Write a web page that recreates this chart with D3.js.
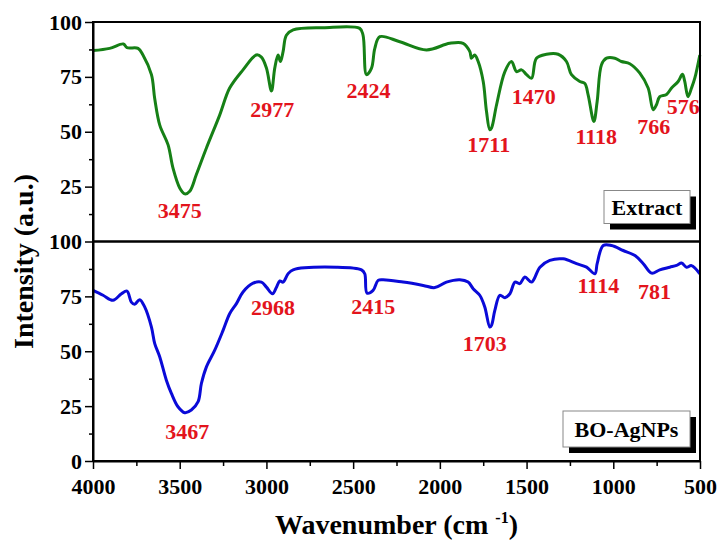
<!DOCTYPE html>
<html>
<head>
<meta charset="utf-8">
<script src="https://cdn.jsdelivr.net/npm/d3@7"></script>
<style>
  body { margin: 0; background: #fff; }
  text { font-family: "Liberation Serif", "Times New Roman", serif; font-weight: bold; }
</style>
</head>
<body>
<div id="chart"></div>
<script>
// spectra: [wavenumber, intensity]
const extractSpectrum = [
  [4000, 87], [3904, 88], [3825, 90], [3804, 88.3], [3740, 88], [3712, 85], [3663, 76],
  [3644, 65], [3615, 53], [3567, 44], [3539, 33.5], [3500, 24.4], [3471, 21.7], [3442, 22.9],
  [3404, 30.5], [3346, 42.6], [3269, 57.7], [3212, 69.9], [3135, 78.2], [3058, 85], [3029, 84],
  [3000, 79], [2971, 68.6], [2952, 79], [2933, 85], [2919, 82], [2904, 86.5], [2885, 94],
  [2846, 96.4], [2673, 97.4], [2462, 97.1], [2443, 94], [2423, 76], [2394, 79], [2375, 88],
  [2346, 93.3], [2231, 91], [2077, 87.3], [1943, 90.3], [1866, 90.3], [1827, 86.5], [1818, 83.5],
  [1799, 85], [1779, 82], [1750, 72.9], [1731, 59.2], [1712, 50.9], [1702, 51.7], [1673, 62.3],
  [1625, 77.4], [1587, 82], [1558, 77.4], [1529, 78.2], [1500, 76], [1471, 74.4], [1443, 83.5],
  [1385, 85.3], [1318, 85.3], [1270, 82], [1241, 76], [1193, 72.9], [1164, 72], [1145, 66.8],
  [1112, 54.7], [1093, 63.8], [1068, 80.5], [1039, 83.5], [991, 83.5], [953, 82], [905, 81],
  [847, 76.7], [799, 69.9], [770, 60], [751, 62.3], [732, 66], [693, 67], [664, 69.9],
  [626, 72.9], [601, 76.2], [588, 72.9], [569, 66], [549, 69.9], [530, 74.4], [501, 85]
];

const agnpSpectrum = [
  [4000, 77.7], [3942, 75.5], [3885, 73.2], [3836, 76.2], [3804, 77.4], [3779, 72.4], [3760, 71.4],
  [3731, 73.5], [3702, 70.2], [3663, 61], [3644, 53.5], [3615, 47.4], [3577, 36.8], [3548, 30.8],
  [3510, 24.7], [3471, 22], [3433, 23.2], [3394, 27], [3375, 35.3], [3346, 42.9], [3298, 50.5],
  [3250, 59.5], [3212, 67.1], [3173, 71.7], [3135, 77], [3077, 81], [3029, 81.5], [3000, 79.2],
  [2965, 76.2], [2942, 79.2], [2923, 82], [2904, 81.5], [2875, 85.3], [2846, 87.1], [2596, 88.3],
  [2452, 87.1], [2433, 85.3], [2420, 76.5], [2385, 77.7], [2356, 82.3], [2327, 82.6], [2212, 81.5],
  [2096, 80], [2029, 79], [1962, 81.5], [1885, 82.6], [1837, 81.5], [1808, 78.5], [1770, 75.5],
  [1741, 70.2], [1712, 61], [1702, 61.8], [1683, 68.6], [1654, 75.5], [1625, 74.4], [1596, 76.2],
  [1567, 81.5], [1539, 80.8], [1510, 83.8], [1471, 81.5], [1423, 88.3], [1366, 91.4], [1289, 92.1],
  [1212, 89.9], [1154, 88.3], [1106, 85.3], [1093, 89.9], [1058, 98.2], [1010, 98.2], [943, 95.9],
  [875, 93.6], [827, 89.9], [779, 85.6], [732, 87.1], [674, 88.3], [635, 89.1], [606, 90.2],
  [578, 88.3], [549, 89], [501, 85.3]
];

// peak labels: text, anchor wavenumber, anchor intensity
const extractPeaks = [
  ['3475', 3500, 10.8], ['2977', 2967, 56.7], ['2424', 2412, 65.3], ['1711', 1718, 40.6],
  ['1470', 1459, 62.6], ['1118', 1098, 44.4], ['766', 766, 49.1], ['576', 596, 58]
];
const agnpPeaks = [
  ['3467', 3457, 9.9], ['2968', 2962, 66.4], ['2415', 2384, 66.8], ['1703', 1741, 50.1],
  ['1114', 1086, 76.5], ['781', 763, 74]
];

const xTicks = [4000, 3500, 3000, 2500, 2000, 1500, 1000, 500];
const yTicks = [0, 25, 50, 75, 100];

const width = 719, height = 542;
const margin = {top: 22, right: 19, bottom: 81, left: 93};
const innerW = width - margin.left - margin.right;
const panelH = (height - margin.top - margin.bottom) / 2;

const panels = [
  {name: 'Extract', data: extractSpectrum, peaks: extractPeaks, color: '#168016', top: 0, boxW: 86},
  {name: 'BO-AgNPs', data: agnpSpectrum, peaks: agnpPeaks, color: '#0a0ad8', top: panelH, boxW: 127}
];

const x = d3.scaleLinear().domain([4000, 500]).range([0, innerW]);

const svg = d3.select('#chart').append('svg')
    .attr('width', width)
    .attr('height', height);

const chart = svg.append('g')
    .attr('transform', `translate(${margin.left},${margin.top})`);

const styleTicks = g => g.selectAll('text')
    .attr('font-size', 22)
    .attr('fill', '#000')
    .attr('font-family', '"Liberation Serif", serif')
    .attr('font-weight', 'bold');

panels.forEach((p, i) => {
  const y = d3.scaleLinear().domain([0, 100]).range([p.top + panelH, p.top]);

  // curve
  const line = d3.line()
      .x(d => x(d[0]))
      .y(d => y(d[1]))
      .curve(d3.curveCatmullRom.alpha(0.5));

  chart.append('path')
      .datum(p.data)
      .attr('fill', 'none')
      .attr('stroke', p.color)
      .attr('stroke-width', 3)
      .attr('stroke-linejoin', 'round')
      .attr('d', line);

  // peak labels
  chart.selectAll(`.peak-${i}`)
    .data(p.peaks)
    .join('text')
      .attr('class', `peak-${i}`)
      .attr('x', d => x(d[1]))
      .attr('y', d => y(d[2]))
      .attr('text-anchor', 'middle')
      .attr('fill', '#e3141c')
      .attr('font-size', 22)
      .text(d => d[0]);

  // y axis with minor ticks
  const yAxis = d3.axisLeft(y)
      .tickValues(i === 0 ? yTicks.slice(1) : yTicks)
      .tickSize(8)
      .tickPadding(3)
      .tickSizeOuter(0);
  const yMinor = d3.axisLeft(y)
      .tickValues(d3.range(12.5, 100, 25))
      .tickSize(4)
      .tickFormat('')
      .tickSizeOuter(0);

  const yg = chart.append('g').call(yAxis).call(styleTicks);
  chart.append('g').call(yMinor).call(g => g.select('.domain').remove());
  yg.select('.domain').attr('stroke-width', 2);

  // legend box with drop shadow
  const bx = innerW - 10 - p.boxW, bh = i === 0 ? 33 : 36;
  const by = p.top + panelH - (i === 0 ? 18 : 14) - bh;
  chart.append('rect')
      .attr('x', bx + 6).attr('y', by + 6)
      .attr('width', p.boxW).attr('height', bh)
      .attr('fill', '#000');
  chart.append('rect')
      .attr('x', bx).attr('y', by)
      .attr('width', p.boxW).attr('height', bh)
      .attr('fill', '#fff')
      .attr('stroke', '#888')
      .attr('stroke-width', 1);
  chart.append('text')
      .attr('x', bx + p.boxW / 2)
      .attr('y', by + bh / 2 + 7.5)
      .attr('text-anchor', 'middle')
      .attr('font-size', 22)
      .text(p.name);
});

// frame: top, right and middle divider
chart.append('rect')
    .attr('x', 0).attr('y', 0)
    .attr('width', innerW).attr('height', panelH * 2)
    .attr('fill', 'none')
    .attr('stroke', '#000')
    .attr('stroke-width', 2);
chart.append('line')
    .attr('x1', 0).attr('x2', innerW)
    .attr('y1', panelH).attr('y2', panelH)
    .attr('stroke', '#000')
    .attr('stroke-width', 2.5);

// x axis
const xAxis = d3.axisBottom(x)
    .tickValues(xTicks)
    .tickFormat(d3.format('d'))
    .tickSize(8)
    .tickPadding(9)
    .tickSizeOuter(0);
const xMinor = d3.axisBottom(x)
    .tickValues(d3.range(3750, 500, -500))
    .tickSize(5)
    .tickFormat('')
    .tickSizeOuter(0);

const xg = chart.append('g')
    .attr('transform', `translate(0,${panelH * 2})`)
    .call(xAxis)
    .call(styleTicks);
chart.append('g')
    .attr('transform', `translate(0,${panelH * 2})`)
    .call(xMinor)
    .call(g => g.select('.domain').remove());
xg.select('.domain').attr('stroke-width', 2);
chart.selectAll('.tick line').attr('stroke-width', 1.5);

// axis titles
const xTitle = svg.append('text')
    .attr('x', margin.left + innerW / 2)
    .attr('y', 534)
    .attr('text-anchor', 'middle')
    .attr('font-size', 28);
xTitle.append('tspan').text('Wavenumber (cm ');
xTitle.append('tspan').attr('dy', -11).attr('font-size', 16).text('-1');
xTitle.append('tspan').attr('dy', 11).text(')');

svg.append('text')
    .attr('transform', `translate(33,${margin.top + panelH + 20}) rotate(-90)`)
    .attr('text-anchor', 'middle')
    .attr('font-size', 28)
    .text('Intensity (a.u.)');
</script>
</body>
</html>
